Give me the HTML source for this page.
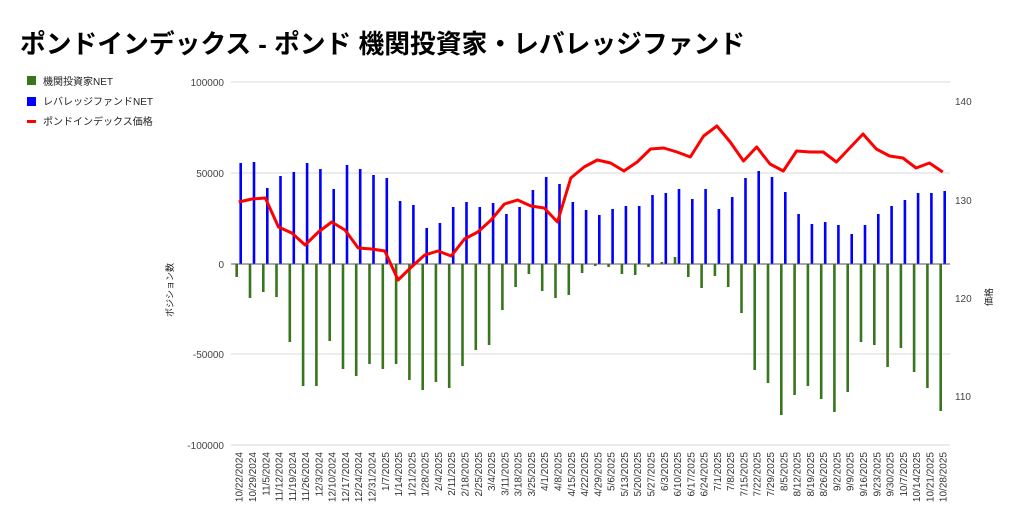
<!DOCTYPE html>
<html><head><meta charset="utf-8"><style>
body{margin:0;background:#fff;}
svg{display:block;font-family:"Liberation Sans","Noto Sans CJK JP",sans-serif;}
</style></head><body>
<svg width="1024" height="527" viewBox="0 0 1024 527" xmlns="http://www.w3.org/2000/svg">
<text x="20" y="53" font-size="26" font-weight="bold" fill="#000" textLength="725" lengthAdjust="spacingAndGlyphs">ポンドインデックス - ポンド 機関投資家・レバレッジファンド</text>
<!-- legend -->
<rect x="27" y="76" width="9" height="9" fill="#38761d"/>
<text x="43" y="85" font-size="10" fill="#222">機関投資家NET</text>
<rect x="27" y="97" width="9" height="9" fill="#0000ff"/>
<text x="43" y="105" font-size="10" fill="#222">レバレッジファンドNET</text>
<rect x="27" y="120" width="9" height="3" fill="#ff0000"/>
<text x="43" y="125" font-size="10" fill="#222">ポンドインデックス価格</text>
<!-- grid -->
<g stroke="#d9d9d9" stroke-width="1">
<line x1="231" y1="82" x2="950" y2="82"/>
<line x1="231" y1="173" x2="950" y2="173"/>
<line x1="231" y1="354" x2="950" y2="354"/>
<line x1="231" y1="445" x2="950" y2="445"/>
</g>
<g font-size="10" fill="#444" text-anchor="end">
<text x="224" y="86">100000</text>
<text x="224" y="177">50000</text>
<text x="224" y="268">0</text>
<text x="224" y="358">-50000</text>
<text x="224" y="449">-100000</text>
</g>
<g font-size="10" fill="#444">
<text x="955" y="105">140</text>
<text x="955" y="204">130</text>
<text x="955" y="302">120</text>
<text x="955" y="400">110</text>
</g>
<text transform="translate(173,290) rotate(-90)" font-size="9" fill="#222" text-anchor="middle">ポジション数</text>
<text transform="translate(992,297) rotate(-90)" font-size="9" fill="#222" text-anchor="middle">価格</text>
<!-- green bars -->
<g stroke="#38761d" stroke-width="2.6">
<line x1="236.7" y1="264" x2="236.7" y2="277"/>
<line x1="250.0" y1="264" x2="250.0" y2="298"/>
<line x1="263.3" y1="264" x2="263.3" y2="292"/>
<line x1="276.5" y1="264" x2="276.5" y2="297"/>
<line x1="289.8" y1="264" x2="289.8" y2="342"/>
<line x1="303.1" y1="264" x2="303.1" y2="386"/>
<line x1="316.4" y1="264" x2="316.4" y2="386"/>
<line x1="329.7" y1="264" x2="329.7" y2="341"/>
<line x1="343.0" y1="264" x2="343.0" y2="369"/>
<line x1="356.2" y1="264" x2="356.2" y2="376"/>
<line x1="369.5" y1="264" x2="369.5" y2="364"/>
<line x1="382.8" y1="264" x2="382.8" y2="369"/>
<line x1="396.1" y1="264" x2="396.1" y2="364"/>
<line x1="409.4" y1="264" x2="409.4" y2="380"/>
<line x1="422.7" y1="264" x2="422.7" y2="390"/>
<line x1="435.9" y1="264" x2="435.9" y2="382"/>
<line x1="449.2" y1="264" x2="449.2" y2="388"/>
<line x1="462.5" y1="264" x2="462.5" y2="366"/>
<line x1="475.8" y1="264" x2="475.8" y2="350"/>
<line x1="489.1" y1="264" x2="489.1" y2="345"/>
<line x1="502.4" y1="264" x2="502.4" y2="310"/>
<line x1="515.6" y1="264" x2="515.6" y2="287"/>
<line x1="528.9" y1="264" x2="528.9" y2="274"/>
<line x1="542.2" y1="264" x2="542.2" y2="291"/>
<line x1="555.5" y1="264" x2="555.5" y2="298"/>
<line x1="568.8" y1="264" x2="568.8" y2="295"/>
<line x1="582.1" y1="264" x2="582.1" y2="273"/>
<line x1="595.3" y1="264" x2="595.3" y2="266"/>
<line x1="608.6" y1="264" x2="608.6" y2="267"/>
<line x1="621.9" y1="264" x2="621.9" y2="274"/>
<line x1="635.2" y1="264" x2="635.2" y2="275"/>
<line x1="648.5" y1="264" x2="648.5" y2="267"/>
<line x1="661.8" y1="264" x2="661.8" y2="262"/>
<line x1="675.0" y1="264" x2="675.0" y2="257"/>
<line x1="688.3" y1="264" x2="688.3" y2="277"/>
<line x1="701.6" y1="264" x2="701.6" y2="288"/>
<line x1="714.9" y1="264" x2="714.9" y2="276"/>
<line x1="728.2" y1="264" x2="728.2" y2="287"/>
<line x1="741.5" y1="264" x2="741.5" y2="313"/>
<line x1="754.7" y1="264" x2="754.7" y2="370"/>
<line x1="768.0" y1="264" x2="768.0" y2="383"/>
<line x1="781.3" y1="264" x2="781.3" y2="415"/>
<line x1="794.6" y1="264" x2="794.6" y2="395"/>
<line x1="807.9" y1="264" x2="807.9" y2="386"/>
<line x1="821.2" y1="264" x2="821.2" y2="399"/>
<line x1="834.4" y1="264" x2="834.4" y2="412"/>
<line x1="847.7" y1="264" x2="847.7" y2="392"/>
<line x1="861.0" y1="264" x2="861.0" y2="342"/>
<line x1="874.3" y1="264" x2="874.3" y2="345"/>
<line x1="887.6" y1="264" x2="887.6" y2="367"/>
<line x1="900.9" y1="264" x2="900.9" y2="348"/>
<line x1="914.1" y1="264" x2="914.1" y2="372"/>
<line x1="927.4" y1="264" x2="927.4" y2="388"/>
<line x1="940.7" y1="264" x2="940.7" y2="411"/>
</g>
<!-- blue bars -->
<g stroke="#0000ff" stroke-width="2.6">
<line x1="240.7" y1="264" x2="240.7" y2="163"/>
<line x1="254.0" y1="264" x2="254.0" y2="162"/>
<line x1="267.3" y1="264" x2="267.3" y2="188"/>
<line x1="280.5" y1="264" x2="280.5" y2="176"/>
<line x1="293.8" y1="264" x2="293.8" y2="172"/>
<line x1="307.1" y1="264" x2="307.1" y2="163"/>
<line x1="320.4" y1="264" x2="320.4" y2="169"/>
<line x1="333.7" y1="264" x2="333.7" y2="189"/>
<line x1="347.0" y1="264" x2="347.0" y2="165"/>
<line x1="360.2" y1="264" x2="360.2" y2="169"/>
<line x1="373.5" y1="264" x2="373.5" y2="175"/>
<line x1="386.8" y1="264" x2="386.8" y2="178"/>
<line x1="400.1" y1="264" x2="400.1" y2="201"/>
<line x1="413.4" y1="264" x2="413.4" y2="205"/>
<line x1="426.7" y1="264" x2="426.7" y2="228"/>
<line x1="439.9" y1="264" x2="439.9" y2="223"/>
<line x1="453.2" y1="264" x2="453.2" y2="207"/>
<line x1="466.5" y1="264" x2="466.5" y2="202"/>
<line x1="479.8" y1="264" x2="479.8" y2="207"/>
<line x1="493.1" y1="264" x2="493.1" y2="203"/>
<line x1="506.4" y1="264" x2="506.4" y2="214"/>
<line x1="519.6" y1="264" x2="519.6" y2="207"/>
<line x1="532.9" y1="264" x2="532.9" y2="190"/>
<line x1="546.2" y1="264" x2="546.2" y2="177"/>
<line x1="559.5" y1="264" x2="559.5" y2="184"/>
<line x1="572.8" y1="264" x2="572.8" y2="202"/>
<line x1="586.1" y1="264" x2="586.1" y2="210"/>
<line x1="599.3" y1="264" x2="599.3" y2="215"/>
<line x1="612.6" y1="264" x2="612.6" y2="209"/>
<line x1="625.9" y1="264" x2="625.9" y2="206"/>
<line x1="639.2" y1="264" x2="639.2" y2="206"/>
<line x1="652.5" y1="264" x2="652.5" y2="195"/>
<line x1="665.8" y1="264" x2="665.8" y2="193"/>
<line x1="679.0" y1="264" x2="679.0" y2="189"/>
<line x1="692.3" y1="264" x2="692.3" y2="199"/>
<line x1="705.6" y1="264" x2="705.6" y2="189"/>
<line x1="718.9" y1="264" x2="718.9" y2="209"/>
<line x1="732.2" y1="264" x2="732.2" y2="197"/>
<line x1="745.5" y1="264" x2="745.5" y2="178"/>
<line x1="758.7" y1="264" x2="758.7" y2="171"/>
<line x1="772.0" y1="264" x2="772.0" y2="177"/>
<line x1="785.3" y1="264" x2="785.3" y2="192"/>
<line x1="798.6" y1="264" x2="798.6" y2="214"/>
<line x1="811.9" y1="264" x2="811.9" y2="224"/>
<line x1="825.2" y1="264" x2="825.2" y2="222"/>
<line x1="838.4" y1="264" x2="838.4" y2="225"/>
<line x1="851.7" y1="264" x2="851.7" y2="234"/>
<line x1="865.0" y1="264" x2="865.0" y2="225"/>
<line x1="878.3" y1="264" x2="878.3" y2="214"/>
<line x1="891.6" y1="264" x2="891.6" y2="206"/>
<line x1="904.9" y1="264" x2="904.9" y2="200"/>
<line x1="918.1" y1="264" x2="918.1" y2="193"/>
<line x1="931.4" y1="264" x2="931.4" y2="193"/>
<line x1="944.7" y1="264" x2="944.7" y2="191"/>
</g>
<line x1="231" y1="264" x2="950" y2="264" stroke="#555" stroke-width="1"/>
<!-- price line -->
<polyline fill="none" stroke="#ff0000" stroke-width="3" stroke-linejoin="round" points="238.7,202 252.0,199 265.3,198 278.5,227 291.8,233 305.1,245 318.4,232 331.7,222 345.0,230 358.2,248 371.5,249 384.8,251 398.1,280 411.4,267 424.7,255 437.9,251 451.2,256 464.5,239 477.8,232 491.1,220 504.4,204 517.6,200 530.9,206 544.2,208 557.5,222 570.8,178 584.1,167 597.3,160 610.6,163 623.9,171 637.2,162 650.5,149 663.8,148 677.0,152 690.3,157 703.6,136 716.9,126 730.2,142 743.5,161 756.7,147 770.0,164 783.3,171 796.6,151 809.9,152 823.2,152 836.4,162 849.7,148 863.0,134 876.3,149 889.6,156 902.9,158 916.1,168 929.4,163 942.7,172"/>
<!-- x labels -->
<g font-size="10" fill="#333" text-anchor="end">
<text transform="translate(242.7,452) rotate(-90)">10/22/2024</text>
<text transform="translate(256.0,452) rotate(-90)">10/29/2024</text>
<text transform="translate(269.3,452) rotate(-90)">11/5/2024</text>
<text transform="translate(282.5,452) rotate(-90)">11/12/2024</text>
<text transform="translate(295.8,452) rotate(-90)">11/19/2024</text>
<text transform="translate(309.1,452) rotate(-90)">11/26/2024</text>
<text transform="translate(322.4,452) rotate(-90)">12/3/2024</text>
<text transform="translate(335.7,452) rotate(-90)">12/10/2024</text>
<text transform="translate(349.0,452) rotate(-90)">12/17/2024</text>
<text transform="translate(362.2,452) rotate(-90)">12/24/2024</text>
<text transform="translate(375.5,452) rotate(-90)">12/31/2024</text>
<text transform="translate(388.8,452) rotate(-90)">1/7/2025</text>
<text transform="translate(402.1,452) rotate(-90)">1/14/2025</text>
<text transform="translate(415.4,452) rotate(-90)">1/21/2025</text>
<text transform="translate(428.7,452) rotate(-90)">1/28/2025</text>
<text transform="translate(441.9,452) rotate(-90)">2/4/2025</text>
<text transform="translate(455.2,452) rotate(-90)">2/11/2025</text>
<text transform="translate(468.5,452) rotate(-90)">2/18/2025</text>
<text transform="translate(481.8,452) rotate(-90)">2/25/2025</text>
<text transform="translate(495.1,452) rotate(-90)">3/4/2025</text>
<text transform="translate(508.4,452) rotate(-90)">3/11/2025</text>
<text transform="translate(521.6,452) rotate(-90)">3/18/2025</text>
<text transform="translate(534.9,452) rotate(-90)">3/25/2025</text>
<text transform="translate(548.2,452) rotate(-90)">4/1/2025</text>
<text transform="translate(561.5,452) rotate(-90)">4/8/2025</text>
<text transform="translate(574.8,452) rotate(-90)">4/15/2025</text>
<text transform="translate(588.1,452) rotate(-90)">4/22/2025</text>
<text transform="translate(601.3,452) rotate(-90)">4/29/2025</text>
<text transform="translate(614.6,452) rotate(-90)">5/6/2025</text>
<text transform="translate(627.9,452) rotate(-90)">5/13/2025</text>
<text transform="translate(641.2,452) rotate(-90)">5/20/2025</text>
<text transform="translate(654.5,452) rotate(-90)">5/27/2025</text>
<text transform="translate(667.8,452) rotate(-90)">6/3/2025</text>
<text transform="translate(681.0,452) rotate(-90)">6/10/2025</text>
<text transform="translate(694.3,452) rotate(-90)">6/17/2025</text>
<text transform="translate(707.6,452) rotate(-90)">6/24/2025</text>
<text transform="translate(720.9,452) rotate(-90)">7/1/2025</text>
<text transform="translate(734.2,452) rotate(-90)">7/8/2025</text>
<text transform="translate(747.5,452) rotate(-90)">7/15/2025</text>
<text transform="translate(760.7,452) rotate(-90)">7/22/2025</text>
<text transform="translate(774.0,452) rotate(-90)">7/29/2025</text>
<text transform="translate(787.3,452) rotate(-90)">8/5/2025</text>
<text transform="translate(800.6,452) rotate(-90)">8/12/2025</text>
<text transform="translate(813.9,452) rotate(-90)">8/19/2025</text>
<text transform="translate(827.2,452) rotate(-90)">8/26/2025</text>
<text transform="translate(840.4,452) rotate(-90)">9/2/2025</text>
<text transform="translate(853.7,452) rotate(-90)">9/9/2025</text>
<text transform="translate(867.0,452) rotate(-90)">9/16/2025</text>
<text transform="translate(880.3,452) rotate(-90)">9/23/2025</text>
<text transform="translate(893.6,452) rotate(-90)">9/30/2025</text>
<text transform="translate(906.9,452) rotate(-90)">10/7/2025</text>
<text transform="translate(920.1,452) rotate(-90)">10/14/2025</text>
<text transform="translate(933.4,452) rotate(-90)">10/21/2025</text>
<text transform="translate(946.7,452) rotate(-90)">10/28/2025</text>
</g>
</svg>
</body></html>
